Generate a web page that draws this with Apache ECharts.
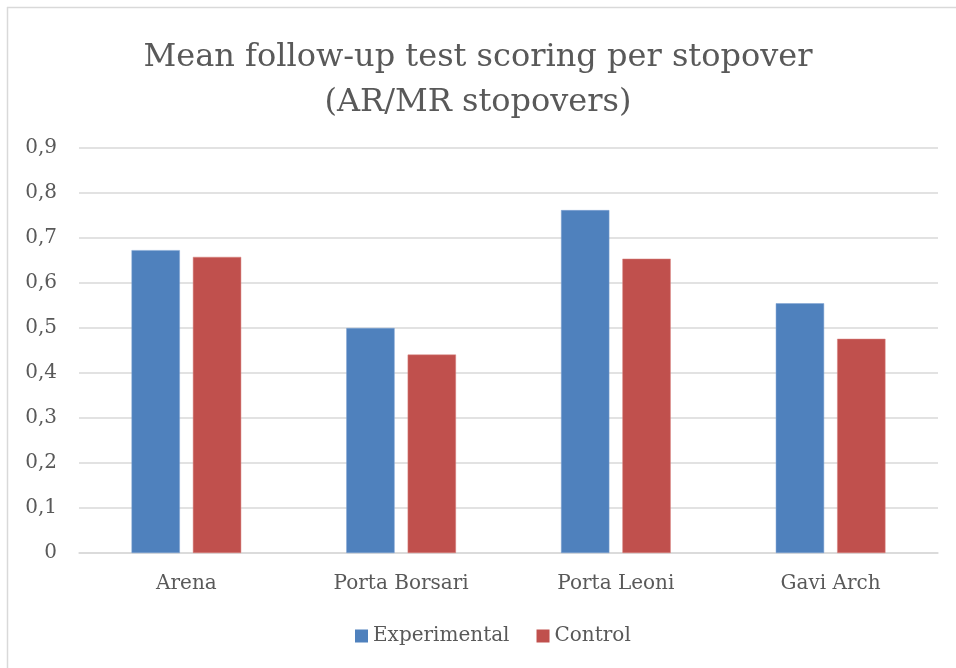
<!DOCTYPE html>
<html>
<head>
<meta charset="utf-8">
<script src="https://cdn.jsdelivr.net/npm/echarts@6/dist/echarts.min.js"></script>
<style>
  html, body { margin: 0; padding: 0; background: #fff; }
  #chart { width: 956px; height: 668px; }
</style>
</head>
<body>
<div id="chart"></div>
<script>
var stopovers = ['Arena', 'Porta Borsari', 'Porta Leoni', 'Gavi Arch'];
var experimental = [0.673, 0.500, 0.762, 0.555];
var control = [0.658, 0.441, 0.654, 0.476];
var yTicks = [0, 0.1, 0.2, 0.3, 0.4, 0.5, 0.6, 0.7, 0.8, 0.9];

var serif = '"DejaVu Serif", "Liberation Serif", serif';
var chart = echarts.init(document.getElementById('chart'));

var option = {
    animation: false,
    textStyle: { fontFamily: serif, color: '#595959' },
    graphic: [
        { type: 'line', shape: { x1: 7, y1: 7.5, x2: 956, y2: 7.5 }, style: { stroke: '#d9d9d9', lineWidth: 1.5 } },
        { type: 'line', shape: { x1: 7.5, y1: 7, x2: 7.5, y2: 668 }, style: { stroke: '#d9d9d9', lineWidth: 1.5 } }
    ],
    title: {
        text: 'Mean follow-up test scoring per stopover\n(AR/MR stopovers)',
        left: 'center',
        top: 30,
        textStyle: {
            fontFamily: serif,
            fontSize: 32,
            fontWeight: 'normal',
            color: '#595959',
            lineHeight: 45
        }
    },
    legend: {
        bottom: 17,
        left: 350,
        itemWidth: 13,
        itemHeight: 13,
        itemGap: 27,
        icon: 'rect',
        itemStyle: { borderWidth: 0 },
        textStyle: { fontFamily: serif, fontSize: 20, color: '#595959' },
        data: ['Experimental', 'Control']
    },
    grid: {
        left: 79,
        right: 18,
        top: 148,
        bottom: 115,
        containLabel: false
    },
    xAxis: {
        type: 'category',
        data: stopovers,
        axisLine: { lineStyle: { color: '#d9d9d9', width: 1.5 } },
        axisTick: { show: false },
        axisLabel: { fontFamily: serif, fontSize: 20, color: '#595959', margin: 21 }
    },
    yAxis: {
        type: 'value',
        min: 0,
        max: 0.9,
        interval: 0.1,
        axisLine: { show: false },
        axisTick: { show: false },
        splitLine: { lineStyle: { color: '#d9d9d9', width: 1.5 } },
        axisLabel: {
            fontFamily: serif,
            fontSize: 20,
            color: '#595959',
            margin: 22,
            formatter: function (v) {
                var t = yTicks.reduce(function (a, b) { return Math.abs(b - v) < Math.abs(a - v) ? b : a; });
                return String(Math.round(t * 10) / 10).replace('.', ',');
            }
        }
    },
    series: [
        {
            name: 'Experimental',
            type: 'bar',
            data: experimental,
            barWidth: '22.5%',
            barGap: '27%',
            itemStyle: { color: '#4f81bd', borderColor: '#7fa3d3', borderWidth: 0.5 }
        },
        {
            name: 'Control',
            type: 'bar',
            data: control,
            barWidth: '22.5%',
            itemStyle: { color: '#c0504d', borderColor: '#d98482', borderWidth: 0.5 }
        }
    ]
};
chart.setOption(option);
</script>
</body>
</html>
